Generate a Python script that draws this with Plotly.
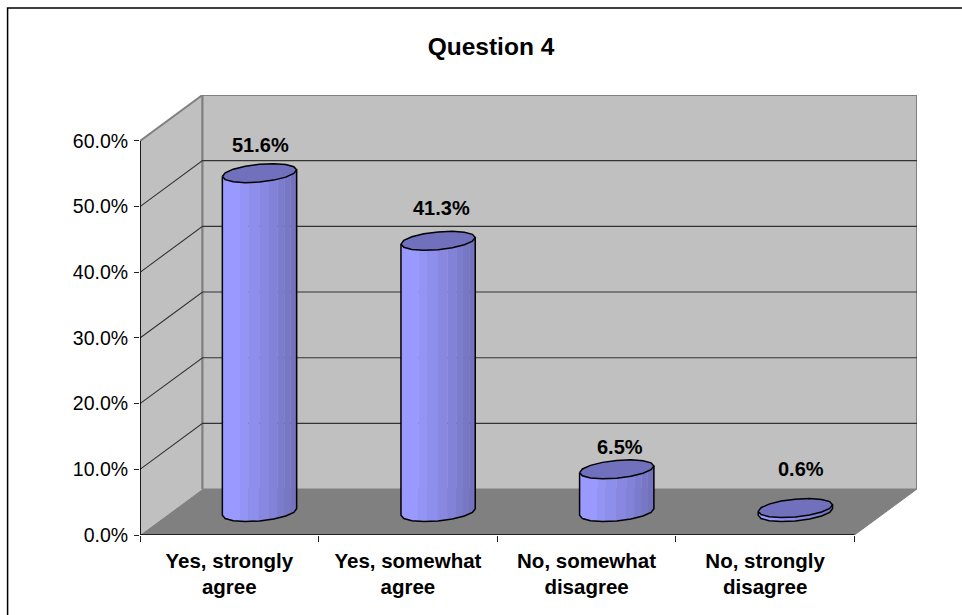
import math
import plotly.graph_objects as go

# Survey results
categories = ["Yes, strongly<br>agree", "Yes, somewhat<br>agree", "No, somewhat<br>disagree", "No, strongly<br>disagree"]
values = [51.6, 41.3, 6.5, 0.6]
label_lift = [28, 33, 22, 39]
label_nudge = [0, 2, 2, 5]
value_ticks = [0, 10, 20, 30, 40, 50, 60]
value_tick_labels = ["0.0%", "10.0%", "20.0%", "30.0%", "40.0%", "50.0%", "60.0%"]

# Oblique projection of the chart box: depth runs from 0 (front) to 1 (back)
DEPTH_X = 0.35
DEPTH_Y = 7.0
VALUE_MAX = 60
N_CATS = len(categories)


def project(cat, value, depth=0.0):
    return cat + depth * DEPTH_X, value + depth * DEPTH_Y


# Cylinder cross-section and its shaded facets, left to right
BAR_CENTER = 0.494
RADIUS_X = 0.195
RADIUS_D = 0.2065
RIM_SIDES = 16
FACET_EDGES = [0, 0.238, 0.35, 0.498, 0.628, 0.744, 0.834, 0.919, 1]
FACET_COLORS = ["#9999FF", "#9494F7", "#8E8EED", "#8888E3", "#8282D9", "#7C7CCF", "#7777C6", "#7272BE"]
TOP_COLOR = "#7070BC"
WALL = "#C0C0C0"
FLOOR = "#808080"
EDGE = "#808080"

_rx = RADIUS_X
_bx = RADIUS_D * DEPTH_X
_t_right = math.atan2(_bx, _rx)


def rim_point(cat_index, value, t):
    return project(cat_index + BAR_CENTER + _rx * math.cos(t), value, 0.5 + RADIUS_D * math.sin(t))


def facet_angle(frac):
    # Angle on the front half of the rim at a fraction of the visible width
    return _t_right - math.acos(2 * frac - 1)


def arc(t0, t1, steps=4):
    return [t0 + (t1 - t0) * s / steps for s in range(steps + 1)]


def poly(points, fill=None, line=None, width=1.0):
    xs, ys = zip(*points)
    return go.Scatter(
        x=list(xs), y=list(ys), mode="lines",
        fill="toself" if fill else "none", fillcolor=fill,
        line=dict(color=line or fill, width=width if line else 0.4),
        hoverinfo="skip",
    )


fig = go.Figure()

# Side wall, back wall and floor
fig.add_trace(poly([project(0, 0), project(0, VALUE_MAX), project(0, VALUE_MAX, 1), project(0, 0, 1)], WALL, EDGE, 2))
fig.add_trace(poly([project(0, 0, 1), project(0, VALUE_MAX, 1), project(N_CATS, VALUE_MAX, 1), project(N_CATS, 0, 1)], WALL, EDGE, 2))
fig.add_trace(poly([project(0, 0), project(N_CATS, 0), project(N_CATS, 0, 1), project(0, 0, 1)], FLOOR, EDGE, 1))

# Gridlines folding from the side wall onto the back wall
for tick in value_ticks[1:-1]:
    fig.add_trace(poly([project(0, tick), project(0, tick, 1), project(N_CATS, tick, 1)], None, "#333333", 1.1))

# Axis lines
fig.add_trace(poly([project(0, VALUE_MAX), project(0, 0), project(N_CATS, 0)], None, "#000000", 1.6))

# Cylinders
for i, v in enumerate(values):
    for k, color in enumerate(FACET_COLORS):
        t0, t1 = facet_angle(FACET_EDGES[k]), facet_angle(FACET_EDGES[k + 1])
        lower = [rim_point(i, 0, t) for t in arc(t0, t1)]
        upper = [rim_point(i, v, t) for t in arc(t1, t0)]
        fig.add_trace(poly(lower + upper, color))
    front = arc(facet_angle(0), facet_angle(1), RIM_SIDES // 2)
    silhouette = [rim_point(i, v, front[0])] + [rim_point(i, 0, t) for t in front] + [rim_point(i, v, front[-1])]
    fig.add_trace(poly(silhouette, None, "#000000", 1.5))
    rim = arc(facet_angle(0), facet_angle(0) + 2 * math.pi, RIM_SIDES)
    top = [rim_point(i, v, t) for t in rim]
    fig.add_trace(poly(top, TOP_COLOR, "#000000", 1.5))

# Value labels above each cylinder
for i, v in enumerate(values):
    x, y = project(i + 0.5, v, 0.5)
    fig.add_annotation(
        x=x, y=y, text=f"<b>{v:.1f}%</b>", showarrow=False,
        xshift=label_nudge[i], yshift=label_lift[i],
        font=dict(family="Liberation Sans", size=20, color="#000000"),
    )

# Chart border: left and top edges only reach the page
plot_w, plot_h = 962 - 139.5 - 45, 615 - 95 - 80
px = lambda v: (v - 139.5) / plot_w
py = lambda v: (615 - 80 - v) / plot_h
fig.add_shape(type="path", xref="paper", yref="paper",
              path=f"M {px(7)} {py(615)} L {px(7)} {py(8)} L {px(962)} {py(8)}",
              line=dict(color="#000000", width=1.5))

fig.update_layout(
    width=962, height=615, autosize=False,
    margin=dict(l=139.5, r=45, t=95, b=80),
    paper_bgcolor="#FFFFFF", plot_bgcolor="#FFFFFF",
    showlegend=False,
    font=dict(family="Liberation Sans", color="#000000"),
    title=dict(text="<b>Question 4</b>", x=491 / 962, xanchor="center",
               y=1 - 46 / 615, yanchor="middle",
               font=dict(family="Liberation Sans", size=24.5, color="#000000")),
    xaxis=dict(
        range=[0, N_CATS + DEPTH_X], showgrid=False, zeroline=False, showline=False,
        tickmode="array", tickvals=[i + 0.5 for i in range(N_CATS)], ticktext=[f"<b>{c}</b>".replace("<br>", "</b><br><b>") for c in categories],
        ticks="", tickfont=dict(family="Liberation Sans", size=20.5, color="#000000"),
        ticklabelstandoff=11,
        minor=dict(tickmode="array", tickvals=list(range(N_CATS + 1)), ticks="outside", ticklen=6, tickcolor="#222222", tickwidth=1),
        fixedrange=True,
    ),
    yaxis=dict(
        range=[0, VALUE_MAX + DEPTH_Y], showgrid=False, zeroline=False, showline=False,
        tickmode="array", tickvals=value_ticks, ticktext=value_tick_labels,
        ticks="outside", ticklen=5, tickcolor="#222222", tickwidth=1,
        ticklabelstandoff=2,
        tickfont=dict(family="Liberation Sans", size=19.5, color="#000000"),
        fixedrange=True,
    ),
)

fig.write_html("out.html")
